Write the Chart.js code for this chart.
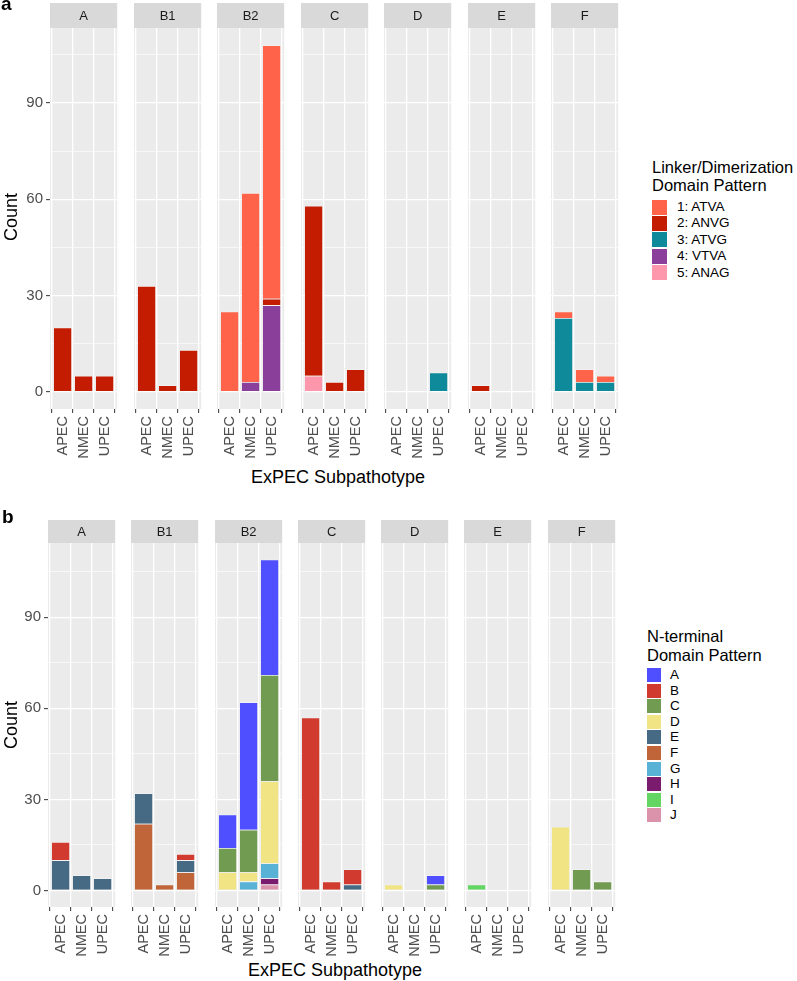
<!DOCTYPE html>
<html><head><meta charset="utf-8">
<script src="https://cdn.jsdelivr.net/npm/chart.js@4.4.0/dist/chart.umd.min.js"></script>
<style>
html,body{margin:0;padding:0;background:#fff;}
body{width:797px;height:981px;position:relative;overflow:hidden;font-family:"Liberation Sans",Arial,Helvetica,sans-serif;}
.abs{position:absolute;white-space:nowrap;}
canvas{position:absolute;}
.key{position:absolute;}
</style></head><body>
<script>
// ---------- categories ----------
const subpathotypes = ['APEC', 'NMEC', 'UPEC'];
const phylogroups = ['A', 'B1', 'B2', 'C', 'D', 'E', 'F'];
const yTickValues = [0, 15, 30, 45, 60, 75, 90, 105];
const yMajorStep = 30;

// ---------- panel a: Linker/Dimerization domain pattern ----------
// each array: 7 phylogroups x [APEC, NMEC, UPEC]
const linkerLabels = ['1: ATVA', '2: ANVG', '3: ATVG', '4: VTVA', '5: ANAG'];
const linkerColors = ['#FF6349', '#C41C00', '#0E8A9A', '#8A3F9B', '#FF97AC'];
const linker_ATVA = [0,0,0,  0,0,0,  25,59,79, 0,0,0,  0,0,0, 0,0,0, 2,4,2];
const linker_ANVG = [20,5,5, 33,2,13, 0,0,2,   53,3,7, 0,0,0, 2,0,0, 0,0,0];
const linker_ATVG = [0,0,0,  0,0,0,  0,0,0,    0,0,0,  0,0,6, 0,0,0, 23,3,3];
const linker_VTVA = [0,0,0,  0,0,0,  0,3,27,   0,0,0,  0,0,0, 0,0,0, 0,0,0];
const linker_ANAG = [0,0,0,  0,0,0,  0,0,0,    5,0,0,  0,0,0, 0,0,0, 0,0,0];
const linkerSeries = [linker_ATVA, linker_ANVG, linker_ATVG, linker_VTVA, linker_ANAG];

// ---------- panel b: N-terminal domain pattern ----------
const nLabels = ['A', 'B', 'C', 'D', 'E', 'F', 'G', 'H', 'I', 'J'];
const nColors = ['#4F4FFF', '#D13B2F', '#719B51', '#F0E485', '#466A84', '#C0653A', '#58B2D6', '#7B1B6D', '#62D562', '#DA93AB'];
const nterm_A = [0,0,0,  0,0,0,  11,42,38, 0,0,0,  0,0,3, 0,0,0, 0,0,0];
const nterm_B = [6,0,0,  0,0,2,  0,0,0,    57,3,5, 0,0,0, 0,0,0, 0,0,0];
const nterm_C = [0,0,0,  0,0,0,  8,14,35,  0,0,0,  0,0,2, 0,0,0, 0,7,3];
const nterm_D = [0,0,0,  0,0,0,  6,3,27,   0,0,0,  2,0,0, 0,0,0, 21,0,0];
const nterm_E = [10,5,4, 10,0,4, 0,0,0,    0,0,2,  0,0,0, 0,0,0, 0,0,0];
const nterm_F = [0,0,0,  22,2,6, 0,0,0,    0,0,0,  0,0,0, 0,0,0, 0,0,0];
const nterm_G = [0,0,0,  0,0,0,  0,3,5,    0,0,0,  0,0,0, 0,0,0, 0,0,0];
const nterm_H = [0,0,0,  0,0,0,  0,0,2,    0,0,0,  0,0,0, 0,0,0, 0,0,0];
const nterm_I = [0,0,0,  0,0,0,  0,0,0,    0,0,0,  0,0,0, 2,0,0, 0,0,0];
const nterm_J = [0,0,0,  0,0,0,  0,0,2,    0,0,0,  0,0,0, 0,0,0, 0,0,0];
const ntermSeries = [nterm_A, nterm_B, nterm_C, nterm_D, nterm_E, nterm_F, nterm_G, nterm_H, nterm_I, nterm_J];

// ---------- layout ----------
const panelA = {x0: 50, step: 83.55, facetW: 75, yAxisW: 50, top: 3, strip: 25, plotH: 381, xAxisH: 52,
  yMin: -5.4, yMax: 113.4, labels: linkerLabels, colors: linkerColors, series: linkerSeries};
const panelB = {x0: 48, step: 83.27, facetW: 75, yAxisW: 48, top: 520, strip: 23, plotH: 364, xAxisH: 52,
  yMin: -5.45, yMax: 114.45, labels: nLabels, colors: nColors, series: ntermSeries};

const FONT = '"Liberation Sans", Arial, Helvetica, sans-serif';

const facetPlugin = {
  id: 'facet',
  beforeDraw(chart, args, opts) {
    const ctx = chart.ctx, a = chart.chartArea;
    ctx.save();
    ctx.fillStyle = '#EBEBEB';
    ctx.fillRect(a.left, a.top, a.right - a.left, a.bottom - a.top);
    ctx.fillStyle = '#D9D9D9';
    ctx.fillRect(a.left, a.top - opts.stripH, a.right - a.left, opts.stripH);
    ctx.fillStyle = '#1A1A1A';
    ctx.font = '13px ' + FONT;
    ctx.textAlign = 'center';
    ctx.textBaseline = 'middle';
    ctx.fillText(opts.title, (a.left + a.right) / 2, a.top - opts.stripH / 2 + 0.5);
    ctx.restore();
  }
};

function makeFacet(p, gi) {
  const first = gi === 0;
  const chartLeft = Math.round(p.x0 + gi * p.step);
  const left = first ? chartLeft - p.yAxisW : chartLeft;
  const width = p.facetW + (first ? p.yAxisW : 0);
  const height = p.strip + p.plotH + p.xAxisH;
  const cv = document.createElement('canvas');
  cv.width = width; cv.height = height;
  cv.style.left = left + 'px'; cv.style.top = p.top + 'px';
  cv.style.width = width + 'px'; cv.style.height = height + 'px';
  document.body.appendChild(cv);

  const datasets = [];
  // ggplot stacks the first level on top -> add datasets in reverse order
  for (let k = p.series.length - 1; k >= 0; k--) {
    datasets.push({
      label: p.labels[k],
      data: subpathotypes.map((s, j) => ({x: j + 1, y: p.series[k][gi * 3 + j] || null})),
      backgroundColor: p.colors[k],
      borderColor: 'rgba(255,255,255,0.45)',
      borderWidth: 0.8,
      barPercentage: 0.9,
      categoryPercentage: 1.0
    });
  }
  const isMajor = v => Math.abs(v % yMajorStep) < 1e-6;
  new Chart(cv, {
    type: 'bar',
    data: {datasets},
    plugins: [facetPlugin],
    options: {
      responsive: false, animation: false, devicePixelRatio: 1,
      layout: {padding: {top: p.strip, left: 0, right: 0, bottom: 0}},
      plugins: {legend: {display: false}, tooltip: {enabled: false}, facet: {title: phylogroups[gi], stripH: p.strip}},
      scales: {
        x: {
          type: 'linear', stacked: true, min: 0.4, max: 3.6, offset: false,
          border: {display: false},
          grid: {color: '#FFFFFF', lineWidth: 1.3, tickLength: 4, tickColor: '#333333', tickWidth: 1},
          ticks: {autoSkip: false, minRotation: 90, maxRotation: 90, padding: 3,
            color: '#4D4D4D', font: {family: FONT, size: 14.5},
            callback: v => subpathotypes[v - 1]},
          afterBuildTicks: s => { s.ticks = subpathotypes.map((c, j) => ({value: j + 1})); },
          afterFit: s => { s.height = p.xAxisH; }
        },
        y: {
          type: 'linear', stacked: true, min: p.yMin, max: p.yMax,
          border: {display: false},
          grid: {
            color: '#FFFFFF',
            lineWidth: c => isMajor(c.tick.value) ? 1.3 : 0.6,
            drawTicks: first, tickLength: 4, tickWidth: 1,
            tickColor: c => isMajor(c.tick.value) ? '#333333' : 'rgba(0,0,0,0)'
          },
          ticks: {display: first, autoSkip: false, padding: 3,
            color: '#4D4D4D', font: {family: FONT, size: 15},
            callback: v => isMajor(v) ? String(v) : ''},
          afterBuildTicks: s => { s.ticks = yTickValues.map(v => ({value: v})); },
          afterFit: s => { s.width = first ? p.yAxisW : 0; }
        }
      }
    }
  });
}

function addText(txt, css) {
  const d = document.createElement('div');
  d.className = 'abs';
  d.textContent = txt;
  Object.assign(d.style, css);
  document.body.appendChild(d);
  return d;
}

function addLegend(p, x, titleLines, titleTop, keyTop, keyStep, keySize, labelX) {
  titleLines.forEach((t, i) => addText(t, {left: x + 'px', top: (titleTop + i * 18.5) + 'px', fontSize: '16.5px', lineHeight: '18.5px', color: '#000'}));
  p.labels.forEach((lab, i) => {
    const k = document.createElement('div');
    k.className = 'key';
    Object.assign(k.style, {left: x + 'px', top: (keyTop + i * keyStep) + 'px', width: keySize + 'px', height: keySize + 'px', background: p.colors[i]});
    document.body.appendChild(k);
    addText(lab, {left: labelX + 'px', top: (keyTop + i * keyStep + keySize / 2 - 8) + 'px', fontSize: '13.5px', lineHeight: '16px', color: '#000'});
  });
}

[panelA, panelB].forEach(p => phylogroups.forEach((g, gi) => makeFacet(p, gi)));

// panel tags
addText('a', {left: '1px', top: '-6px', fontSize: '19px', lineHeight: '19px', fontWeight: 'bold', color: '#000'});
addText('b', {left: '2px', top: '507px', fontSize: '19px', lineHeight: '19px', fontWeight: 'bold', color: '#000'});

// axis titles
addText('ExPEC Subpathotype', {left: '338px', top: '468px', fontSize: '18px', lineHeight: '18px', color: '#000', transform: 'translateX(-50%)'});
addText('ExPEC Subpathotype', {left: '335px', top: '961px', fontSize: '18px', lineHeight: '18px', color: '#000', transform: 'translateX(-50%)'});
addText('Count', {left: '10.5px', top: '217px', fontSize: '18px', lineHeight: '18px', color: '#000', transform: 'translate(-50%,-50%) rotate(-90deg)'});
addText('Count', {left: '10.5px', top: '725px', fontSize: '18px', lineHeight: '18px', color: '#000', transform: 'translate(-50%,-50%) rotate(-90deg)'});

// legends
addLegend(panelA, 652, ['Linker/Dimerization', 'Domain Pattern'], 157.5, 199.5, 16.4, 15, 677);
addLegend(panelB, 647, ['N-terminal', 'Domain Pattern'], 627, 668, 15.6, 14, 670);
</script>
</body></html>
